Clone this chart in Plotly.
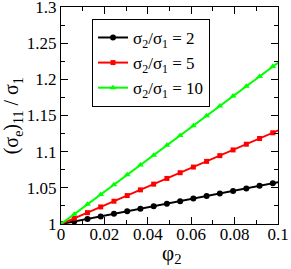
import plotly.graph_objects as go

phi = [0.0, 0.0061, 0.0122, 0.0183, 0.0244, 0.0305, 0.0366, 0.0427, 0.0488, 0.0549,
       0.0610, 0.0671, 0.0732, 0.0793, 0.0854, 0.0915, 0.0976, 0.1037]
ratio2 = [1.0, 1.0035, 1.0070, 1.0105, 1.0140, 1.0175, 1.0210, 1.0245, 1.0280, 1.0316,
          1.0351, 1.0386, 1.0421, 1.0457, 1.0492, 1.0528, 1.0563, 1.0598]
ratio5 = [1.0, 1.0079, 1.0157, 1.0236, 1.0315, 1.0393, 1.0472, 1.0551, 1.0630, 1.0709,
          1.0787, 1.0866, 1.0945, 1.1024, 1.1103, 1.1182, 1.1261, 1.1340]
ratio10 = [1.0, 1.0136, 1.0272, 1.0408, 1.0544, 1.0680, 1.0816, 1.0952, 1.1088, 1.1224,
           1.1360, 1.1496, 1.1632, 1.1768, 1.1904, 1.2040, 1.2176, 1.2312]
names = ["σ<sub>2</sub>/σ<sub>1</sub> = 2", "σ<sub>2</sub>/σ<sub>1</sub> = 5", "σ<sub>2</sub>/σ<sub>1</sub> = 10"]
xticks = [0, 0.02, 0.04, 0.06, 0.08, 0.1]
xticklabels = ["0", "0.02", "0.04", "0.06", "0.08", "0.1"]
yticks = [1, 1.05, 1.1, 1.15, 1.2, 1.25, 1.3]
yticklabels = ["1", "1.05", "1.1", "1.15", "1.2", "1.25", "1.3"]
xtitle = "φ<sub>2</sub>"
ytitle = "(σ<sub>e</sub>)<sub>11</sub> / σ<sub>1</sub>"

FONT = "Liberation Serif, Times New Roman, serif"
fig = go.Figure()
styles = [("black", "circle", 6), ("#ff0000", "square", 5), ("#00ff00", "triangle-up", 6)]
for ys, name, (c, sym, sz) in zip([ratio2, ratio5, ratio10], names, styles):
    fig.add_trace(go.Scatter(x=phi, y=ys, name=name, mode="lines+markers",
                             line=dict(color=c, width=2),
                             marker=dict(color=c, symbol=sym, size=sz)))

fig.update_layout(
    width=291, height=269,
    margin=dict(l=61, r=13, t=7, b=45),
    paper_bgcolor="white", plot_bgcolor="white",
    font=dict(family=FONT, color="black", size=17),
    showlegend=True,
    legend=dict(x=0.143, y=0.945, xanchor="left", yanchor="top",
                bordercolor="black", borderwidth=1, bgcolor="white",
                font=dict(size=17, family=FONT), tracegroupgap=0,
                itemwidth=30),
    annotations=[
        dict(text=ytitle, textangle=-90, xref="paper", yref="paper",
             x=-0.222, y=0.5, xanchor="center", yanchor="middle", showarrow=False,
             font=dict(size=20, family=FONT)),
        dict(text=xtitle, xref="paper", yref="paper",
             x=0.507, y=-0.138, xanchor="center", yanchor="middle", showarrow=False,
             font=dict(size=21, family=FONT)),
    ],
)
fig.update_xaxes(range=[0, 0.1], tickvals=xticks, ticktext=xticklabels,
                 showgrid=False, zeroline=False, showline=True, linecolor="black",
                 linewidth=1, mirror="allticks", ticks="inside", ticklen=7,
                 tickcolor="black", tickfont=dict(size=17, family=FONT),
                 ticklabeloverflow="allow", automargin=False, ticklabelstandoff=-5,
                 minor=dict(dtick=0.01, ticks="inside", ticklen=4, tickcolor="black"))
fig.update_yaxes(range=[1, 1.3], tickvals=yticks, ticktext=yticklabels,
                 showgrid=False, zeroline=False, showline=True, linecolor="black",
                 linewidth=1, mirror="allticks", ticks="inside", ticklen=7,
                 tickcolor="black", tickfont=dict(size=17, family=FONT),
                 ticklabeloverflow="allow", automargin=False,
                 minor=dict(dtick=0.025, ticks="inside", ticklen=4, tickcolor="black"))
fig.write_html("out.html", config={"displayModeBar": False},
               post_script="document.body.style.margin='0';")
